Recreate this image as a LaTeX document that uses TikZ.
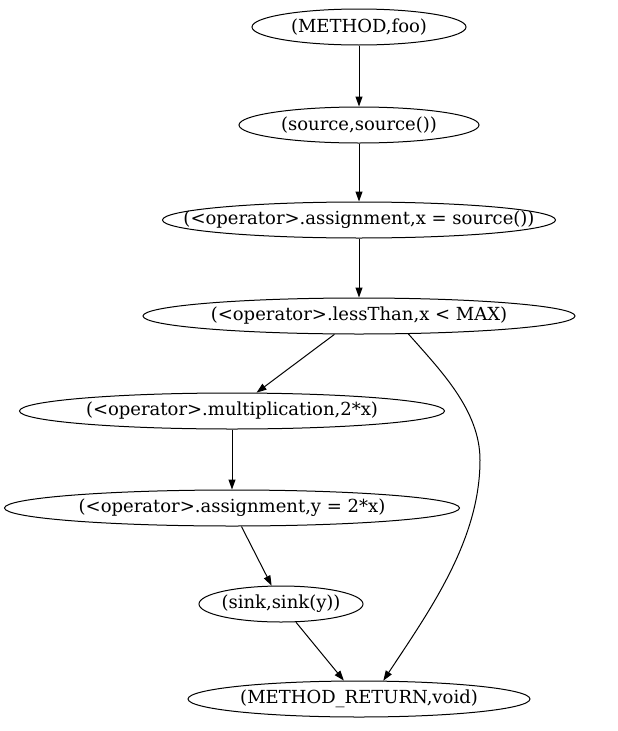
\documentclass[tikz,border=0pt]{standalone}
\usepackage{fontspec}
\setmainfont{DejaVu Serif}
\usetikzlibrary{shapes.geometric,arrows.meta}

% text ohne eigene breite, die ellipse kommt aus minimum width
\newcommand{\cpglabel}[1]{\makebox[0pt]{#1}}

\tikzset{
  cpgnode/.style={draw,ellipse,inner sep=0pt,minimum height=36pt,line width=1pt,
    font=\fontsize{18}{20}\selectfont},
  cpgedge/.style={line width=1pt,-{Triangle[length=10pt,width=7pt]}}
}

\begin{document}
\begin{tikzpicture}[x=1pt,y=-1pt]
    \useasboundingbox (0,0) rectangle (618,731);

    % knoten des graphen
    \node[cpgnode,minimum width=214pt] (mfoo) at (359,27) {\cpglabel{(METHOD,foo)}};
    \node[cpgnode,minimum width=240pt] (src) at (359,125) {\cpglabel{(source,source())}};
    \node[cpgnode,minimum width=393pt] (asgx) at (359,220) {\cpglabel{(<operator>.assignment,x = source())}};
    \node[cpgnode,minimum width=432pt] (less) at (359,316) {\cpglabel{(<operator>.lessThan,x < MAX)}};
    \node[cpgnode,minimum width=425pt] (mult) at (232,411) {\cpglabel{(<operator>.multiplication,2*x)}};
    \node[cpgnode,minimum width=455pt] (asgy) at (232,508) {\cpglabel{(<operator>.assignment,y = 2*x)}};
    \node[cpgnode,minimum width=164pt] (sink) at (281,604) {\cpglabel{(sink,sink(y))}};
    \node[cpgnode,minimum width=342pt] (mret) at (359,699) {\cpglabel{(METHOD\_RETURN,void)}};

    % kanten
    \draw[cpgedge] (mfoo) -- (src);
    \draw[cpgedge] (src) -- (asgx);
    \draw[cpgedge] (asgx) -- (less);
    \draw[cpgedge] (less) -- (mult);
    \draw[cpgedge] (mult) -- (asgy);
    \draw[cpgedge] (asgy) -- (sink);
    \draw[cpgedge] (sink) -- (mret);

    % kante am rand entlang
    \draw[cpgedge] (less.-20) .. controls (440,370) and (480,410) .. (480,460)
        .. controls (480,540) and (430,610) .. (mret.37);
\end{tikzpicture}
\end{document}
